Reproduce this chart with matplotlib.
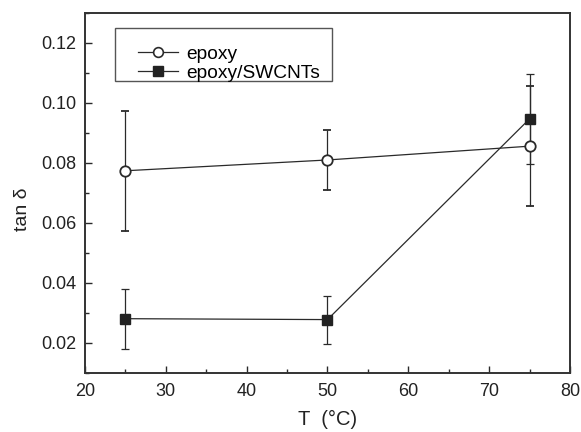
import matplotlib
matplotlib.use('Agg')
import matplotlib.pyplot as plt
from matplotlib.ticker import MultipleLocator
from matplotlib.lines import Line2D
from matplotlib.patches import Rectangle

temps = [25, 50, 75]
epoxy = [0.0774, 0.0810, 0.0856]
epoxy_err = [0.0200, 0.0100, 0.0200]
swcnt = [0.0281, 0.0278, 0.0947]
swcnt_err = [0.0100, 0.0080, 0.0150]

plt.rcParams['font.family'] = ['Liberation Sans', 'DejaVu Sans']
dark = '#2a2a2a'

fig = plt.figure(figsize=(5.81, 4.32), dpi=100)
ax = fig.add_axes([0.1463, 0.1366, 0.8347, 0.8334])

ax.errorbar(temps, epoxy, yerr=epoxy_err, color=dark, lw=0.9, marker='o',
            ms=7.5, mfc='white', mec=dark, mew=1.3, capsize=3, elinewidth=0.9,
            capthick=0.9)
ax.errorbar(temps, swcnt, yerr=swcnt_err, color=dark, lw=0.9, marker='s',
            ms=7.5, mfc='#222222', mec='#222222', capsize=3, elinewidth=0.9,
            capthick=0.9)

ax.set_xlim(20, 80)
ax.set_ylim(0.01, 0.13)
ax.xaxis.set_major_locator(MultipleLocator(10))
ax.xaxis.set_minor_locator(MultipleLocator(5))
ax.yaxis.set_minor_locator(MultipleLocator(0.01))
ax.set_yticks([0.02, 0.04, 0.06, 0.08, 0.10, 0.12])
ax.set_yticklabels(['0.02', '0.04', '0.06', '0.08', '0.10', '0.12'])
ax.tick_params(which='both', direction='in', colors=dark, labelcolor='#222222',
               labelsize=13, width=1)
ax.tick_params(which='major', length=5)
ax.tick_params(axis='x', which='major', pad=7.5)
ax.tick_params(axis='y', which='major', pad=6)
ax.tick_params(which='minor', length=3)
for s in ax.spines.values():
    s.set_linewidth(1.4)
    s.set_color('#333333')

ax.set_xlabel('T  (°C)', fontsize=14.5, color='#222222', va='top')
ax.xaxis.set_label_coords(0.5, -0.103)
ax.set_ylabel('tan δ', fontsize=14, color='#222222')
ax.yaxis.set_label_coords(-0.111, 0.456)

# legend box
ax.add_patch(Rectangle((0.062, 0.811), 0.447, 0.147, transform=ax.transAxes,
                       fill=False, ec='#555555', lw=1.0, zorder=3))
handles = [
    Line2D([], [], color=dark, lw=0.9, marker='o', ms=7, mfc='white', mec=dark, mew=1.2),
    Line2D([], [], color=dark, lw=0.9, marker='s', ms=7, mfc='#222222', mec='#222222'),
]
ax.legend(handles, ['epoxy', 'epoxy/SWCNTs'], loc='upper left',
          bbox_to_anchor=(0.109, 0.91), fontsize=13.8, frameon=False,
          handlelength=2.08, handletextpad=0.42, borderpad=0, labelspacing=0.1,
          borderaxespad=0)

fig.savefig('out.png', dpi=100)
